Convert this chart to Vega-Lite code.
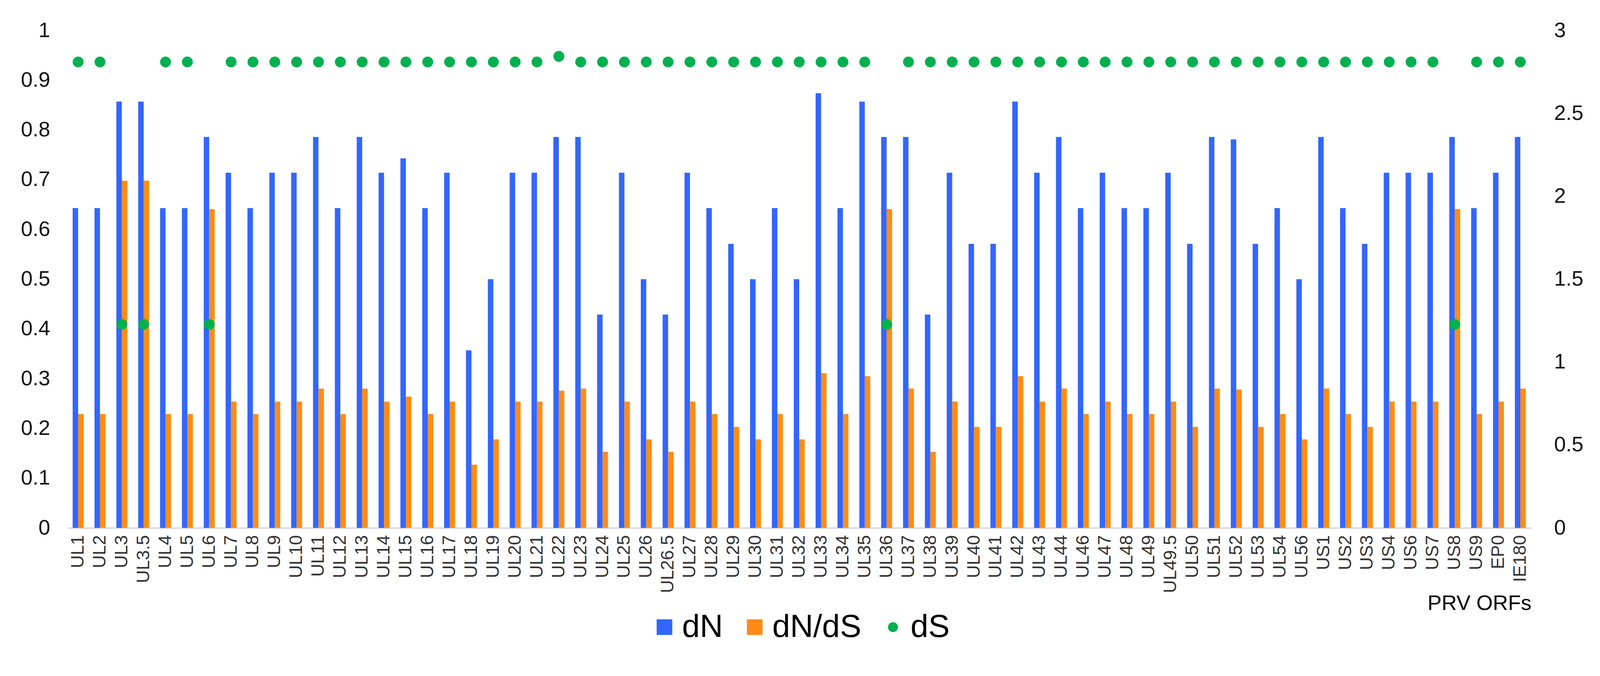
{
  "$schema": "https://vega.github.io/schema/vega-lite/v6.json",
  "autosize": {"type": "none"},
  "padding": {"left": 172, "top": 78, "right": 302, "bottom": 379},
  "width": 3748,
  "height": 1273,
  "background": "white",
  "data": {
    "values": [
      {"orf": "UL1", "dN": 0.643, "dN/dS": 0.229, "dS": 2.81},
      {"orf": "UL2", "dN": 0.643, "dN/dS": 0.229, "dS": 2.81},
      {"orf": "UL3", "dN": 0.857, "dN/dS": 0.698, "dS": 1.227},
      {"orf": "UL3.5", "dN": 0.857, "dN/dS": 0.698, "dS": 1.227},
      {"orf": "UL4", "dN": 0.643, "dN/dS": 0.229, "dS": 2.81},
      {"orf": "UL5", "dN": 0.643, "dN/dS": 0.229, "dS": 2.81},
      {"orf": "UL6", "dN": 0.786, "dN/dS": 0.641, "dS": 1.227},
      {"orf": "UL7", "dN": 0.714, "dN/dS": 0.254, "dS": 2.81},
      {"orf": "UL8", "dN": 0.643, "dN/dS": 0.229, "dS": 2.81},
      {"orf": "UL9", "dN": 0.714, "dN/dS": 0.254, "dS": 2.81},
      {"orf": "UL10", "dN": 0.714, "dN/dS": 0.254, "dS": 2.81},
      {"orf": "UL11", "dN": 0.786, "dN/dS": 0.28, "dS": 2.81},
      {"orf": "UL12", "dN": 0.643, "dN/dS": 0.229, "dS": 2.81},
      {"orf": "UL13", "dN": 0.786, "dN/dS": 0.28, "dS": 2.81},
      {"orf": "UL14", "dN": 0.714, "dN/dS": 0.254, "dS": 2.81},
      {"orf": "UL15", "dN": 0.743, "dN/dS": 0.264, "dS": 2.81},
      {"orf": "UL16", "dN": 0.643, "dN/dS": 0.229, "dS": 2.81},
      {"orf": "UL17", "dN": 0.714, "dN/dS": 0.254, "dS": 2.81},
      {"orf": "UL18", "dN": 0.357, "dN/dS": 0.127, "dS": 2.81},
      {"orf": "UL19", "dN": 0.5, "dN/dS": 0.178, "dS": 2.81},
      {"orf": "UL20", "dN": 0.714, "dN/dS": 0.254, "dS": 2.81},
      {"orf": "UL21", "dN": 0.714, "dN/dS": 0.254, "dS": 2.81},
      {"orf": "UL22", "dN": 0.786, "dN/dS": 0.276, "dS": 2.844},
      {"orf": "UL23", "dN": 0.786, "dN/dS": 0.28, "dS": 2.81},
      {"orf": "UL24", "dN": 0.429, "dN/dS": 0.153, "dS": 2.81},
      {"orf": "UL25", "dN": 0.714, "dN/dS": 0.254, "dS": 2.81},
      {"orf": "UL26", "dN": 0.5, "dN/dS": 0.178, "dS": 2.81},
      {"orf": "UL26.5", "dN": 0.429, "dN/dS": 0.153, "dS": 2.81},
      {"orf": "UL27", "dN": 0.714, "dN/dS": 0.254, "dS": 2.81},
      {"orf": "UL28", "dN": 0.643, "dN/dS": 0.229, "dS": 2.81},
      {"orf": "UL29", "dN": 0.571, "dN/dS": 0.203, "dS": 2.81},
      {"orf": "UL30", "dN": 0.5, "dN/dS": 0.178, "dS": 2.81},
      {"orf": "UL31", "dN": 0.643, "dN/dS": 0.229, "dS": 2.81},
      {"orf": "UL32", "dN": 0.5, "dN/dS": 0.178, "dS": 2.81},
      {"orf": "UL33", "dN": 0.874, "dN/dS": 0.311, "dS": 2.81},
      {"orf": "UL34", "dN": 0.643, "dN/dS": 0.229, "dS": 2.81},
      {"orf": "UL35", "dN": 0.857, "dN/dS": 0.305, "dS": 2.81},
      {"orf": "UL36", "dN": 0.786, "dN/dS": 0.641, "dS": 1.227},
      {"orf": "UL37", "dN": 0.786, "dN/dS": 0.28, "dS": 2.81},
      {"orf": "UL38", "dN": 0.429, "dN/dS": 0.153, "dS": 2.81},
      {"orf": "UL39", "dN": 0.714, "dN/dS": 0.254, "dS": 2.81},
      {"orf": "UL40", "dN": 0.571, "dN/dS": 0.203, "dS": 2.81},
      {"orf": "UL41", "dN": 0.571, "dN/dS": 0.203, "dS": 2.81},
      {"orf": "UL42", "dN": 0.857, "dN/dS": 0.305, "dS": 2.81},
      {"orf": "UL43", "dN": 0.714, "dN/dS": 0.254, "dS": 2.81},
      {"orf": "UL44", "dN": 0.786, "dN/dS": 0.28, "dS": 2.81},
      {"orf": "UL46", "dN": 0.643, "dN/dS": 0.229, "dS": 2.81},
      {"orf": "UL47", "dN": 0.714, "dN/dS": 0.254, "dS": 2.81},
      {"orf": "UL48", "dN": 0.643, "dN/dS": 0.229, "dS": 2.81},
      {"orf": "UL49", "dN": 0.643, "dN/dS": 0.229, "dS": 2.81},
      {"orf": "UL49.5", "dN": 0.714, "dN/dS": 0.254, "dS": 2.81},
      {"orf": "UL50", "dN": 0.571, "dN/dS": 0.203, "dS": 2.81},
      {"orf": "UL51", "dN": 0.786, "dN/dS": 0.28, "dS": 2.81},
      {"orf": "UL52", "dN": 0.781, "dN/dS": 0.278, "dS": 2.81},
      {"orf": "UL53", "dN": 0.571, "dN/dS": 0.203, "dS": 2.81},
      {"orf": "UL54", "dN": 0.643, "dN/dS": 0.229, "dS": 2.81},
      {"orf": "UL56", "dN": 0.5, "dN/dS": 0.178, "dS": 2.81},
      {"orf": "US1", "dN": 0.786, "dN/dS": 0.28, "dS": 2.81},
      {"orf": "US2", "dN": 0.643, "dN/dS": 0.229, "dS": 2.81},
      {"orf": "US3", "dN": 0.571, "dN/dS": 0.203, "dS": 2.81},
      {"orf": "US4", "dN": 0.714, "dN/dS": 0.254, "dS": 2.81},
      {"orf": "US6", "dN": 0.714, "dN/dS": 0.254, "dS": 2.81},
      {"orf": "US7", "dN": 0.714, "dN/dS": 0.254, "dS": 2.81},
      {"orf": "US8", "dN": 0.786, "dN/dS": 0.641, "dS": 1.227},
      {"orf": "US9", "dN": 0.643, "dN/dS": 0.229, "dS": 2.81},
      {"orf": "EP0", "dN": 0.714, "dN/dS": 0.254, "dS": 2.81},
      {"orf": "IE180", "dN": 0.786, "dN/dS": 0.28, "dS": 2.81}
    ]
  },
  "encoding": {
    "x": {
      "field": "orf",
      "type": "nominal",
      "sort": null,
      "scale": {"paddingInner": 0.5, "paddingOuter": 0.25},
      "axis": {
        "title": "PRV ORFs",
        "titleAnchor": "end",
        "titleFontSize": 54,
        "titleFontWeight": "normal",
        "titleColor": "#000000",
        "titlePadding": 0,
        "labelAngle": -90,
        "labelFontSize": 46,
        "labelColor": "#333333",
        "labelPadding": 18,
        "ticks": false,
        "domainColor": "#d9d9d9",
        "domainWidth": 4
      }
    }
  },
  "layer": [
    {
      "transform": [{"fold": ["dN", "dN/dS"], "as": ["series", "value"]}],
      "mark": {"type": "bar"},
      "encoding": {
        "xOffset": {"field": "series", "type": "nominal", "scale": {"domain": ["dN", "dN/dS"], "paddingInner": 0, "paddingOuter": 0}},
        "y": {
          "field": "value",
          "type": "quantitative",
          "scale": {"domain": [0, 1]},
          "axis": {"title": null, "values": [0, 0.1, 0.2, 0.3, 0.4, 0.5, 0.6, 0.7, 0.8, 0.9, 1], "format": "~g", "labelPadding": 44, "orient": "left"}
        },
        "color": {
          "field": "series",
          "type": "nominal",
          "scale": {"domain": ["dN", "dN/dS", "dS"], "range": ["#3366ff", "#ff8c14", "#00b050"]},
          "legend": {"title": null}
        }
      }
    },
    {
      "mark": {"type": "point", "filled": true, "opacity": 1, "size": 1900},
      "encoding": {
        "y": {
          "field": "dS",
          "type": "quantitative",
          "scale": {"domain": [0, 3]},
          "axis": {"title": null, "values": [0, 0.5, 1, 1.5, 2, 2.5, 3], "format": "~g", "labelPadding": 58, "orient": "right"}
        },
        "color": {"datum": "dS", "type": "nominal", "legend": {"title": null}},
        "shape": {
          "datum": "dS",
          "type": "nominal",
          "scale": {"domain": ["dN", "dN/dS", "dS"], "range": ["square", "square", "M-0.64,0A0.64,0.64,0,1,1,0.64,0A0.64,0.64,0,1,1,-0.64,0Z"]},
          "legend": {"title": null}
        }
      }
    }
  ],
  "resolve": {"scale": {"y": "independent"}},
  "config": {
    "font": "Liberation Sans",
    "view": {"stroke": null},
    "axis": {"grid": false, "labelFont": "Liberation Sans", "titleFont": "Liberation Sans"},
    "axisY": {"domain": false, "ticks": false, "labelFontSize": 54, "labelColor": "#111111"},
    "legend": {
      "orient": "bottom",
      "direction": "horizontal",
      "labelFontSize": 82,
      "labelFont": "Liberation Sans",
      "labelColor": "#000000",
      "labelLimit": 600,
      "symbolSize": 1600,
      "symbolStrokeWidth": 0,
      "symbolOpacity": 1,
      "labelOffset": 4,
      "columnPadding": 40,
      "offset": -8,
      "layout": {"bottom": {"anchor": "middle"}}
    }
  }
}
